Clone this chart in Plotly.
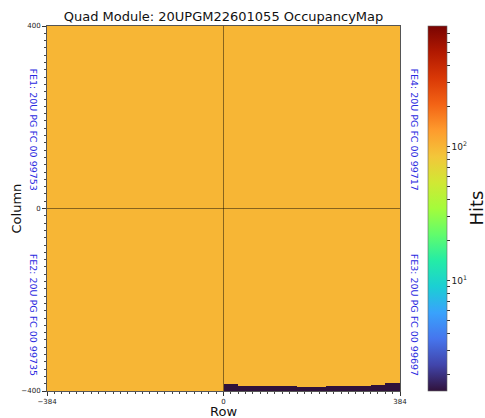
import numpy as np
import plotly.graph_objects as go

# ---- data ---------------------------------------------------------------
TITLE = "Quad Module: 20UPGM22601055 OccupancyMap"
X_LABEL = "Row"
Y_LABEL = "Column"
CBAR_LABEL = "Hits"

ROW_MIN, ROW_MAX = -384, 384
COL_MIN, COL_MAX = -400, 400
X_TICKS = [-384, 0, 384]
Y_TICKS = [-400, 0, 400]

FE_LABELS = ["FE1: 20U PG FC 00 99753", "FE2: 20U PG FC 00 99735",
             "FE3: 20U PG FC 00 99697", "FE4: 20U PG FC 00 99717"]

HITS_NOMINAL = 100      # occupancy of a normally responding pixel
HITS_LOW = 1.5          # occupancy of the unresponsive edge strip
HITS_RANGE = [1.5, 790]

# unresponsive strip along the bottom edge of FE3: height (in columns)
# for each 32-row block, starting at row 0
STRIP_ROW_START = [0, 32, 64, 96, 128, 160, 192, 224, 256, 288, 320, 352]
STRIP_HEIGHT = [16, 13, 12, 11, 10, 9, 9, 10, 11, 12, 14, 18]
STRIP_BLOCK = 32

# ---- occupancy map (2x2 pixel cells) -------------------------------------
CELL = 2
rows = np.arange(ROW_MIN, ROW_MAX, CELL) + CELL / 2
cols = np.arange(COL_MIN, COL_MAX, CELL) + CELL / 2
hits = np.full((cols.size, rows.size), float(HITS_NOMINAL))
for start, height in zip(STRIP_ROW_START, STRIP_HEIGHT):
    in_rows = (rows >= start) & (rows < start + STRIP_BLOCK)
    in_cols = cols < COL_MIN + height
    hits[np.ix_(in_cols, in_rows)] = HITS_LOW

zlog = np.log10(hits)

# log colour bar ticks: decades labelled, 2..9 multiples unlabelled
cb_vals, cb_text = [], []
for dec in [1, 10, 100]:
    for m in range(1, 10):
        v = m * dec
        if HITS_RANGE[0] <= v <= HITS_RANGE[1]:
            cb_vals.append(np.log10(v))
            cb_text.append(f"10<sup>{int(np.log10(dec))}</sup>" if m == 1 else " ")

FONT = "DejaVu Sans"
W, H = 485, 418
ML, MR, MT, MB = 47, 85, 25.5, 24
plot_w = W - ML - MR
plot_h = H - MT - MB

fig = go.Figure()
fig.add_trace(go.Heatmap(
    x=rows, y=cols, z=zlog,
    colorscale="Turbo",
    zmin=np.log10(HITS_RANGE[0]), zmax=np.log10(HITS_RANGE[1]),
    hoverinfo="skip",
    colorbar=dict(
        x=(428 - ML) / plot_w, xanchor="left", xpad=0,
        y=0.5, yanchor="middle", len=1, lenmode="fraction", ypad=0,
        thickness=19, thicknessmode="pixels",
        outlinewidth=0.6, outlinecolor="#666",
        tickmode="array", tickvals=cb_vals, ticktext=cb_text,
        ticks="outside", ticklen=3, tickwidth=0.8, tickcolor="#333",
        tickfont=dict(family=FONT, size=9, color="#222"),
    ),
))

# quadrant separators
line_style = dict(color="rgba(0,0,0,0.45)", width=1)
fig.add_shape(type="line", x0=0, x1=0, y0=COL_MIN, y1=COL_MAX, xref="x", yref="y", line=line_style)
fig.add_shape(type="line", x0=ROW_MIN, x1=ROW_MAX, y0=0, y1=0, xref="x", yref="y", line=line_style)

axis_common = dict(
    ticks="outside", ticklen=4, tickwidth=0.8, tickcolor="#333",
    tickfont=dict(family=FONT, size=7, color="#222"),
    showgrid=False, zeroline=False,
    showline=True, linecolor="#555", linewidth=1, mirror=True,
    minor=dict(ticks="outside", ticklen=2, tickwidth=0.6, tickcolor="#444", dtick=16),
)
fig.update_xaxes(range=[ROW_MIN, ROW_MAX], tickmode="array", tickvals=X_TICKS,
                 ticktext=[str(v).replace("-", "\u2212") for v in X_TICKS], **axis_common)
fig.update_xaxes(minor_tick0=ROW_MIN)
fig.update_yaxes(range=[COL_MIN, COL_MAX], tickmode="array", tickvals=Y_TICKS,
                 ticktext=[str(v).replace("-", "\u2212") for v in Y_TICKS], **axis_common)
fig.update_yaxes(minor_tick0=COL_MIN)

# front-end chip labels (vertical centre given in pixels from the top)
fe_font = dict(family=FONT, size=9.5, color="#2a2ae0")
fe_pos = [(-1, 130), (-1, 317), (1, 317), (1, 130)]
for text, (side, yc) in zip(FE_LABELS, fe_pos):
    fig.add_annotation(
        text=text, textangle=90, showarrow=False, font=fe_font,
        xref="paper", yref="paper",
        x=0 if side < 0 else 1, y=1 - (yc - MT) / plot_h,
        xanchor="center", yanchor="middle",
        xshift=-14 if side < 0 else 14,
    )

# axis titles
fig.add_annotation(text=X_LABEL, xref="paper", yref="paper", x=0.5, y=0,
                   yanchor="middle", yshift=-20, showarrow=False,
                   font=dict(family=FONT, size=13, color="#111"))
fig.add_annotation(text=Y_LABEL, xref="paper", yref="paper", x=0, y=0.5,
                   xanchor="center", xshift=-31, textangle=-90, showarrow=False,
                   font=dict(family=FONT, size=13, color="#111"))
fig.add_annotation(text=CBAR_LABEL, xref="paper", yref="paper", x=(476 - ML) / plot_w, y=0.5,
                   xanchor="center", yanchor="middle", textangle=-90, showarrow=False,
                   font=dict(family=FONT, size=18, color="#111"))

fig.update_layout(
    width=W, height=H,
    margin=dict(l=ML, r=MR, t=MT, b=MB),
    paper_bgcolor="white", plot_bgcolor="white",
    title=dict(text=TITLE, x=(ML + plot_w / 2) / W, xanchor="center",
               y=1 - 16.7 / H, yanchor="middle",
               font=dict(family=FONT, size=13, color="#111")),
    showlegend=False,
)

fig.write_html("out.html")
